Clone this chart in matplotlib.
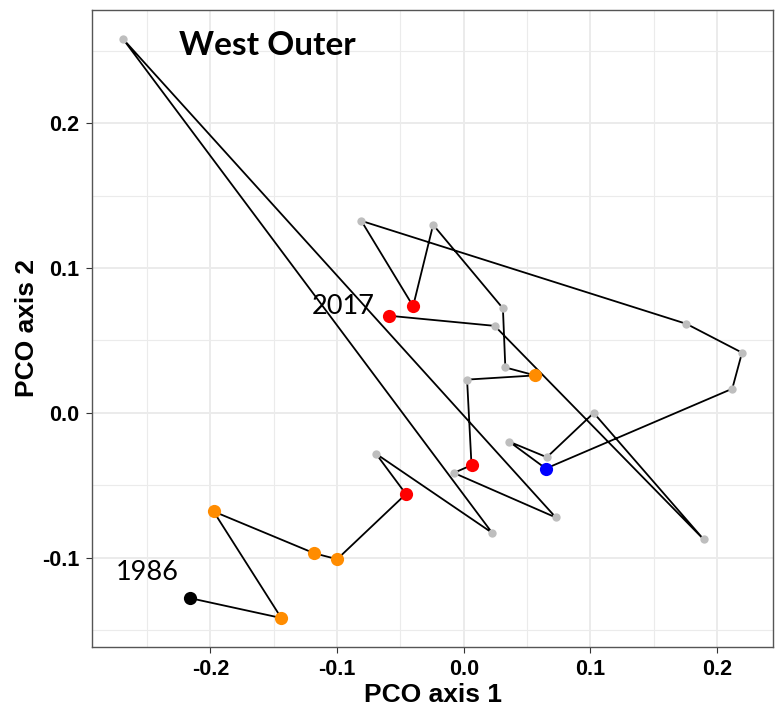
import matplotlib
matplotlib.use("Agg")
import matplotlib.pyplot as plt
import numpy as np

# ---- data (path order, 1986 -> 2017) ----
pco1 = [-0.2165, -0.1441, -0.1976, -0.1181, -0.1000, -0.0457, -0.0693, 0.0224,
        -0.2691, 0.0727, -0.0079, 0.0061, 0.0026, 0.0563, 0.0328, 0.0309,
        -0.0242, -0.0400, -0.0809, 0.1758, 0.2197, 0.2120, 0.0648, 0.0360,
        0.0656, 0.1026, 0.1894, 0.0244, -0.0591]
pco2 = [-0.1278, -0.1416, -0.0680, -0.0969, -0.1010, -0.0560, -0.0282, -0.0828,
        0.2582, -0.0722, -0.0414, -0.0361, 0.0230, 0.0259, 0.0314, 0.0722,
        0.1299, 0.0737, 0.1326, 0.0615, 0.0416, 0.0167, -0.0384, -0.0199,
        -0.0306, 0.0000, -0.0873, 0.0601, 0.0671]
group = ["start", "orange", "orange", "orange", "orange", "red", "grey", "grey",
         "grey", "grey", "grey", "red", "grey", "orange", "grey", "grey",
         "grey", "red", "grey", "grey", "grey", "grey", "blue", "grey",
         "grey", "grey", "grey", "grey", "red"]
year_labels = ["1986", "2017"]
title = "West Outer"
x_ticks = [-0.2, -0.1, 0.0, 0.1, 0.2]
y_ticks = [-0.1, 0.0, 0.1, 0.2]

# ---- styles ----
colors = {"start": "black", "orange": "#FF8C00", "red": "#FF0000",
          "blue": "#0000FF", "grey": "#BEBEBE"}
sizes = {"start": 9.5, "orange": 9.5, "red": 9.5, "blue": 9.5, "grey": 6}

fig = plt.figure(figsize=(7.76, 7.08), dpi=100)
ax = fig.add_axes([0.1186, 0.0862, 0.8775, 0.8997])

x = np.array(pco1)
y = np.array(pco2)

ax.plot(x, y, color="black", lw=1.3, zorder=3)
for xi, yi, g in zip(x, y, group):
    ax.plot(xi, yi, "o", color=colors[g], ms=sizes[g], mec="none", zorder=4)

# limits: data range with 5% expansion (ggplot default)
xr = x.max() - x.min()
yr = y.max() - y.min()
ax.set_xlim(x.min() - 0.05 * xr, x.max() + 0.05 * xr)
ax.set_ylim(y.min() - 0.05 * yr, y.max() + 0.05 * yr)

ax.set_xticks(x_ticks)
ax.set_xticklabels(["%.1f" % v for v in x_ticks])
ax.set_yticks(y_ticks)
ax.set_yticklabels(["%.1f" % v for v in y_ticks])
ax.set_xticks(np.arange(-0.25, 0.25, 0.1), minor=True)
ax.set_yticks(np.arange(-0.15, 0.3, 0.1), minor=True)
ax.grid(True, which="major", color="#EBEBEB", lw=1.4, zorder=0)
ax.grid(True, which="minor", color="#EBEBEB", lw=0.8, zorder=0)
ax.tick_params(which="minor", length=0)
ax.tick_params(which="major", length=4, color="#333333", width=0.8,
               direction="out", pad=5)
for lab in ax.get_xticklabels() + ax.get_yticklabels():
    lab.set_fontfamily("Liberation Sans")
    lab.set_fontweight("bold")
    lab.set_fontsize(15.5)
for s in ax.spines.values():
    s.set_color("#555555")
    s.set_linewidth(1.0)
ax.set_axisbelow(True)

ax.set_xlabel("PCO axis 1", fontfamily="Liberation Sans", fontweight="bold",
              fontsize=19, labelpad=2)
ax.set_ylabel("PCO axis 2", fontfamily="Liberation Sans", fontweight="bold",
              fontsize=19, labelpad=2)

ax.text(-0.2496, -0.110, year_labels[0], fontfamily="Lato", fontsize=19.5,
        ha="center", va="center", zorder=5)
ax.text(-0.0953, 0.0735, year_labels[1], fontfamily="Lato", fontsize=19.5,
        ha="center", va="center", zorder=5)
ax.text(-0.155, 0.2535, title, fontfamily="Lato", fontweight="bold",
        fontsize=24, ha="center", va="center", zorder=5)

fig.savefig("out.png", dpi=100)
